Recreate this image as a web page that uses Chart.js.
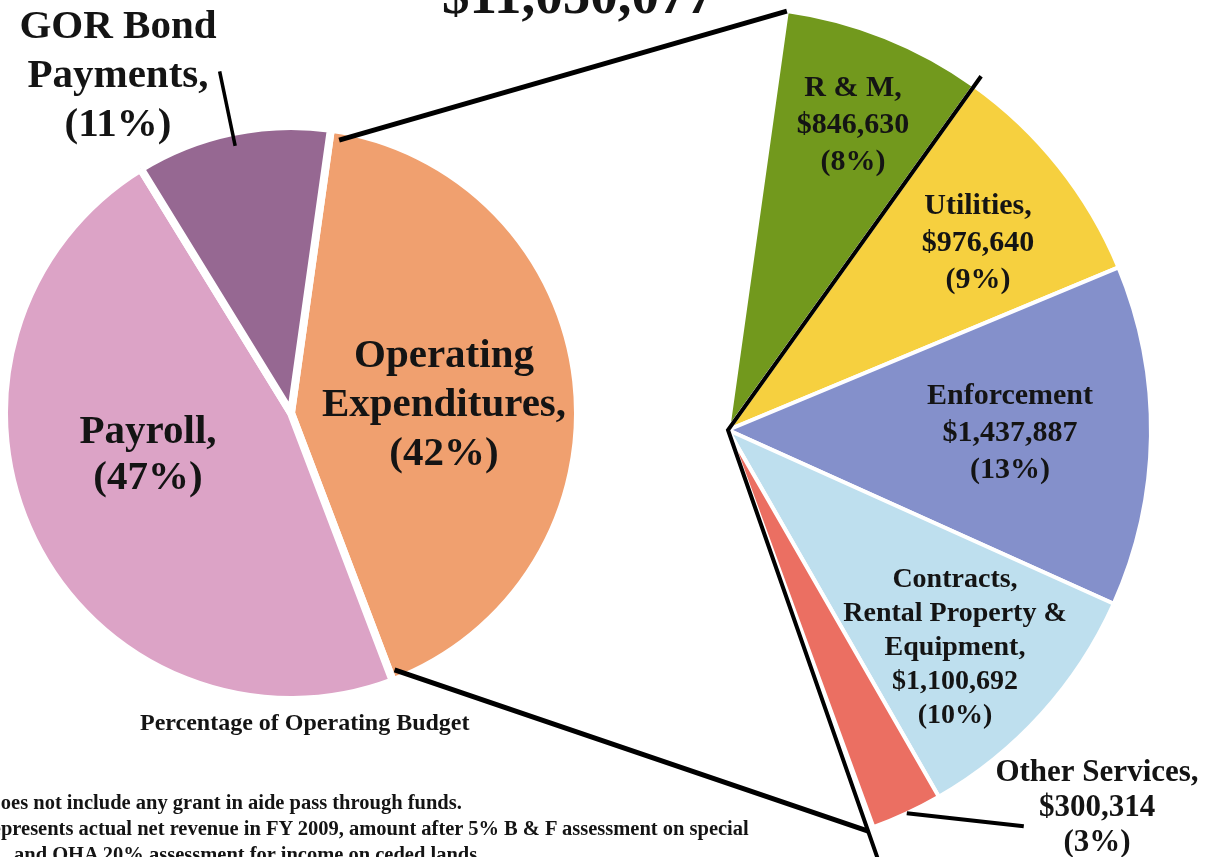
<!DOCTYPE html>
<html><head><meta charset="utf-8">
<script src="https://cdn.jsdelivr.net/npm/chart.js@4.4.0/dist/chart.umd.min.js"></script>
<style>
html,body{margin:0;padding:0;background:#fff;width:1207px;height:857px;overflow:hidden;position:relative;}
canvas{position:absolute;}
.txt{position:absolute;white-space:nowrap;font-family:"Liberation Serif",serif;color:#141414;font-weight:bold;}
</style></head><body>
<canvas id="leftPie" width="582" height="826" style="left:0;top:0"></canvas>
<canvas id="rightPie" width="982" height="860" style="left:237px;top:0"></canvas>
<div class="txt" id="title" style="left:0;width:1156px;text-align:center;top:-33px;font-size:55px;line-height:55px;"></div>
<div class="txt" id="caption" style="left:140px;top:710px;font-size:24px;line-height:24px;">Percentage of Operating Budget</div>
<div class="txt" style="left:-14px;top:792px;font-size:20.5px;line-height:21px;">Does not include any grant in aide pass through funds.</div>
<div class="txt" style="left:-23px;top:818px;font-size:20.5px;line-height:21px;">Represents actual net revenue in FY 2009, amount after 5% B &amp; F assessment on special</div>
<div class="txt" style="left:14px;top:844px;font-size:20.5px;line-height:21px;">and OHA 20% assessment for income on ceded lands.</div>
<script>
// ---------- DATA ----------
const totalBudget = 11050077;
const budgetLabels = ['Operating Expenditures', 'Payroll', 'GOR Bond Payments'];
const budgetPercents = [42, 47, 11];

const opLabels = ['R & M', 'Utilities', 'Enforcement', 'Contracts, Rental Property & Equipment', 'Other Services'];
const opValues = [846630, 976640, 1437887, 1100692, 300314];
const opPercents = [8, 9, 13, 10, 3];

// ---------- STYLE ----------
const budgetColors = ['#F0A06F', '#DCA3C6', '#966892'];
const opColors = ['#72991D', '#F6D03F', '#8490CB', '#BEDFEE', '#EB6F62'];
const ROTATION = 8;
const FONT = '"Liberation Serif", serif';
const TEXT = '#141414';

const money = v => '$' + v.toLocaleString('en-US');
document.getElementById('title').textContent = money(totalBudget);

const budgetLabelLines = [
  ['Operating', 'Expenditures,', '(' + budgetPercents[0] + '%)'],
  ['Payroll,', '(' + budgetPercents[1] + '%)'],
  ['GOR Bond', 'Payments,', '(' + budgetPercents[2] + '%)']
];
const opLabelLines = [
  ['R & M,', money(opValues[0]), '(' + opPercents[0] + '%)'],
  ['Utilities,', money(opValues[1]), '(' + opPercents[1] + '%)'],
  ['Enforcement', money(opValues[2]), '(' + opPercents[2] + '%)'],
  ['Contracts,', 'Rental Property &', 'Equipment,', money(opValues[3]), '(' + opPercents[3] + '%)'],
  ['Other Services,', money(opValues[4]), '(' + opPercents[4] + '%)']
];
// label placement relative to pie centre
const budgetLabelLayout = [
  {dx: 153, dy: -8, size: 41, lh: 49, weight: 'bold'},
  {dx: -143, dy: 42, size: 41, lh: 46, weight: 'bold'},
  {dx: -173, dy: -337, size: 41, lh: 49, weight: 'bold'}
];
const opLabelLayout = [
  {dx: 125, dy: -305, size: 30, lh: 37, weight: 'bold'},
  {dx: 250, dy: -187, size: 30, lh: 37, weight: 'bold'},
  {dx: 282, dy: 3, size: 30, lh: 37, weight: 'bold'},
  {dx: 227, dy: 218, size: 28, lh: 34, weight: 'bold'},
  {dx: 369, dy: 378, size: 31, lh: 35, weight: 'bold'}
];

function drawBlock(ctx, lines, cx, cy, lay) {
  ctx.save();
  ctx.fillStyle = TEXT;
  ctx.textAlign = 'center';
  ctx.textBaseline = 'middle';
  ctx.font = lay.weight + ' ' + lay.size + 'px ' + FONT;
  const n = lines.length;
  lines.forEach((t, i) => {
    ctx.fillText(t, cx, cy + (i - (n - 1) / 2) * lay.lh);
  });
  ctx.restore();
}
const pt = (arc, ang, r) => ({x: arc.x + Math.cos(ang) * r, y: arc.y + Math.sin(ang) * r});

function line(ctx, pts, w) {
  ctx.save();
  ctx.strokeStyle = '#000';
  ctx.lineWidth = w;
  ctx.lineJoin = 'miter';
  ctx.lineCap = 'butt';
  ctx.beginPath();
  ctx.moveTo(pts[0].x, pts[0].y);
  for (let i = 1; i < pts.length; i++) ctx.lineTo(pts[i].x, pts[i].y);
  ctx.stroke();
  ctx.restore();
}

const leftLabelPlugin = {
  id: 'leftLabels',
  afterDatasetsDraw(chart) {
    const ctx = chart.ctx;
    const arcs = chart.getDatasetMeta(0).data;
    const c = arcs[0];
    // GOR leader line
    const g = arcs[2];
    const mid = (g.startAngle + g.endAngle) / 2;
    line(ctx, [pt(g, mid, g.outerRadius - 14), pt(g, mid, g.outerRadius + 62)], 3.5);
    budgetLabelLines.forEach((lines, i) => {
      const lay = budgetLabelLayout[i];
      drawBlock(ctx, lines, c.x + lay.dx, c.y + lay.dy, lay);
    });
  }
};

const leftChart = new Chart(document.getElementById('leftPie'), {
  type: 'pie',
  data: {
    labels: budgetLabels,
    datasets: [{
      data: budgetPercents,
      backgroundColor: budgetColors,
      borderColor: '#ffffff',
      borderWidth: 8
    }]
  },
  options: {
    responsive: false,
    animation: false,
    events: [],
    rotation: ROTATION,
    radius: 287,
    layout: {padding: 0},
    plugins: {legend: {display: false}, tooltip: {enabled: false}}
  },
  plugins: [leftLabelPlugin]
});

const rightPlugin = {
  id: 'rightLines',
  afterDatasetsDraw(chart) {
    const ctx = chart.ctx;
    const arcs = chart.getDatasetMeta(0).data;
    const lc = document.getElementById('leftPie');
    const rc = document.getElementById('rightPie');
    const offX = lc.offsetLeft - rc.offsetLeft, offY = lc.offsetTop - rc.offsetTop;
    const op = leftChart.getDatasetMeta(0).data[0];
    const shift = p => ({x: p.x + offX, y: p.y + offY});
    const first = arcs[0], last = arcs[opValues.length - 1];
    const R = first.outerRadius;
    // connectors from Operating Expenditures slice
    line(ctx, [shift(pt(op, op.startAngle + 0.035, op.outerRadius - 10)), pt(first, first.startAngle, R)], 5);
    line(ctx, [shift(pt(op, op.endAngle - 0.02, op.outerRadius - 10)), pt(last, last.endAngle + 0.015, R + 2)], 5);
    // bracket along fan
    line(ctx, [pt(first, first.endAngle, R + 12), {x: first.x, y: first.y}, pt(last, last.endAngle + 0.015, R + 30)], 4);
    // Other Services leader
    const m = (last.startAngle + last.endAngle) / 2;
    const s = pt(last, m, R);
    line(ctx, [s, {x: s.x + 117, y: s.y + 13}], 4);
    opLabelLines.forEach((lines, i) => {
      const lay = opLabelLayout[i];
      drawBlock(ctx, lines, first.x + lay.dx, first.y + lay.dy, lay);
    });
  }
};

const opRemainder = totalBudget - opValues.reduce((a, b) => a + b, 0);
new Chart(document.getElementById('rightPie'), {
  type: 'pie',
  data: {
    labels: opLabels.concat(['Payroll & GOR Bond Payments']),
    datasets: [{
      data: opValues.concat([opRemainder]),
      backgroundColor: opColors.concat(['rgba(0,0,0,0)']),
      borderColor: '#ffffff',
      borderWidth: opValues.map(() => 4).concat([0])
    }]
  },
  options: {
    responsive: false,
    animation: false,
    events: [],
    rotation: ROTATION,
    radius: 423,
    layout: {padding: 0},
    plugins: {legend: {display: false}, tooltip: {enabled: false}}
  },
  plugins: [rightPlugin]
});
</script>
</body></html>
